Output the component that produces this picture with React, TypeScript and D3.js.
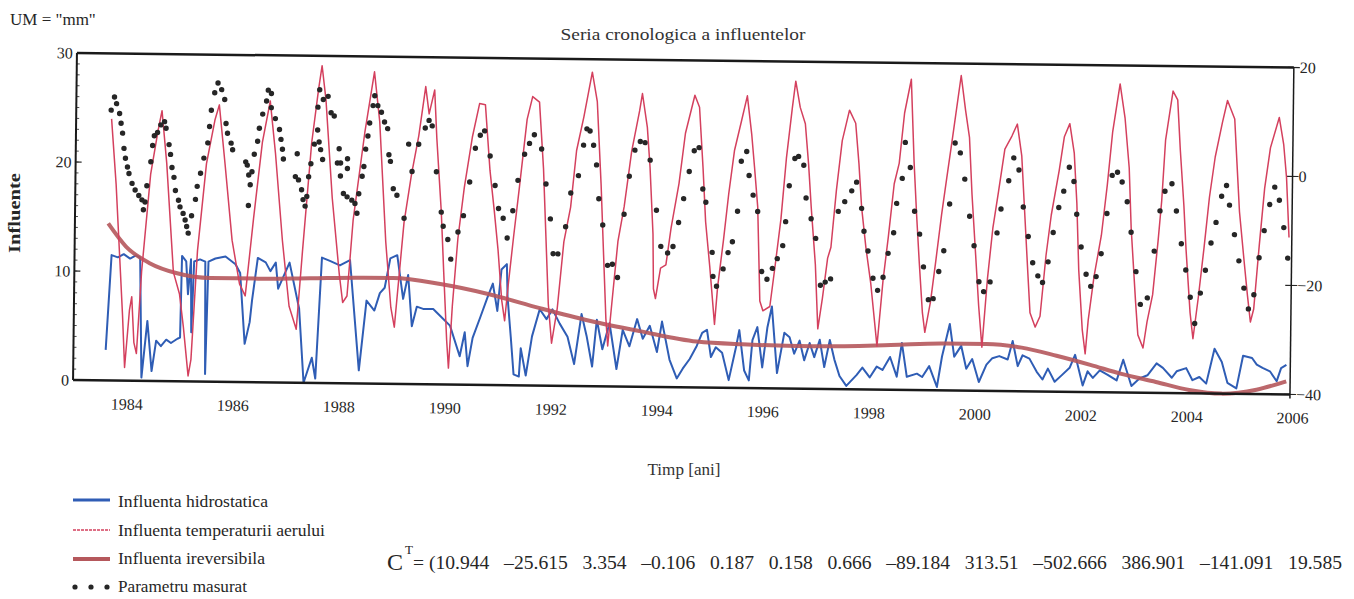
import * as d3 from 'd3'

// Series: [year, value]
const hydrostatic: [number, number][] = [
  [1983.59, 2.8], [1983.68, 11.5], [1983.8, 11.3], [1983.91, 11.6], [1984.03, 11.2], [1984.14, 11.5],
  [1984.22, 11.3], [1984.27, 0.3], [1984.37, 5.5], [1984.46, 0.9], [1984.54, 3.7], [1984.63, 3.2],
  [1984.73, 3.8], [1984.82, 3.5], [1984.94, 3.9], [1984.99, 4.0], [1985.01, 11.5], [1985.09, 11.0],
  [1985.13, 8.0], [1985.18, 11.2], [1985.2, 4.5], [1985.24, 11.0], [1985.35, 11.2], [1985.45, 11.0],
  [1985.47, 0.7], [1985.51, 11.0], [1985.64, 11.3], [1985.83, 11.5], [1986.02, 10.8], [1986.11, 10.0],
  [1986.21, 3.5], [1986.3, 5.5], [1986.34, 7.5], [1986.44, 11.4], [1986.59, 11.0], [1986.68, 10.2],
  [1986.78, 11.0], [1986.83, 8.6], [1987.04, 11.0], [1987.23, 6.8], [1987.33, 0.0], [1987.48, 2.3],
  [1987.55, 0.4], [1987.65, 11.5], [1987.8, 11.2], [1987.99, 10.8], [1988.18, 11.3], [1988.24, 8.1],
  [1988.37, 1.2], [1988.5, 7.6], [1988.65, 6.7], [1988.75, 8.3], [1988.84, 8.8], [1988.94, 11.5],
  [1989.07, 11.8], [1989.19, 7.8], [1989.28, 10.0], [1989.36, 5.3], [1989.45, 7.1], [1989.57, 6.9],
  [1989.76, 6.9], [1989.89, 6.3], [1990.08, 5.4], [1990.27, 2.6], [1990.36, 4.8], [1990.42, 1.7],
  [1990.51, 4.3], [1990.65, 6.2], [1990.78, 8.0], [1990.88, 9.3], [1990.97, 6.8], [1991.04, 10.6],
  [1991.14, 11.1], [1991.16, 8.1], [1991.23, 4.4], [1991.29, 1.0], [1991.39, 0.8], [1991.42, 3.4],
  [1991.52, 0.9], [1991.63, 4.5], [1991.77, 7.0], [1991.9, 6.1], [1992.01, 7.0], [1992.15, 5.7],
  [1992.3, 4.5], [1992.43, 2.0], [1992.56, 6.6], [1992.66, 4.6], [1992.77, 1.8], [1992.85, 6.1],
  [1992.96, 3.4], [1993.09, 5.8], [1993.23, 1.6], [1993.34, 5.2], [1993.47, 3.7], [1993.61, 6.2],
  [1993.72, 4.4], [1993.85, 5.6], [1993.99, 3.2], [1994.08, 6.0], [1994.23, 2.5], [1994.37, 0.8],
  [1994.48, 1.7], [1994.61, 2.6], [1994.74, 3.8], [1994.84, 5.0], [1994.93, 5.3], [1995.01, 2.8],
  [1995.1, 3.7], [1995.22, 3.2], [1995.35, 0.7], [1995.48, 3.7], [1995.54, 5.3], [1995.64, 1.6],
  [1995.73, 0.7], [1995.79, 4.4], [1995.88, 5.6], [1995.98, 1.9], [1996.07, 5.6], [1996.15, 7.5],
  [1996.26, 1.4], [1996.39, 5.1], [1996.49, 4.7], [1996.58, 3.2], [1996.68, 4.4], [1996.77, 2.6],
  [1996.87, 4.2], [1996.96, 2.9], [1997.06, 4.5], [1997.15, 2.0], [1997.25, 4.5], [1997.34, 2.7],
  [1997.44, 1.2], [1997.57, 0.3], [1997.76, 1.3], [1997.87, 2.0], [1998.01, 1.1], [1998.14, 2.1],
  [1998.25, 1.8], [1998.39, 3.0], [1998.52, 1.2], [1998.61, 4.3], [1998.71, 1.2], [1998.9, 1.5],
  [1999.0, 1.2], [1999.13, 2.2], [1999.28, 0.3], [1999.37, 3.1], [1999.51, 6.1], [1999.6, 3.1],
  [1999.73, 4.1], [1999.83, 2.0], [1999.94, 2.9], [2000.07, 0.8], [2000.21, 2.4], [2000.32, 3.0],
  [2000.45, 3.2], [2000.61, 2.9], [2000.7, 4.6], [2000.8, 2.3], [2000.89, 3.3], [2001.02, 3.0],
  [2001.16, 1.8], [2001.27, 1.1], [2001.37, 2.1], [2001.5, 0.9], [2001.63, 1.5], [2001.78, 2.2],
  [2001.88, 3.4], [2001.93, 2.5], [2002.03, 0.6], [2002.12, 1.9], [2002.22, 1.3], [2002.35, 2.0],
  [2002.5, 1.6], [2002.67, 1.1], [2002.79, 3.0], [2002.95, 0.6], [2003.1, 1.3], [2003.25, 1.6],
  [2003.42, 2.7], [2003.54, 2.3], [2003.71, 1.4], [2003.8, 2.0], [2003.98, 2.3], [2004.1, 1.2],
  [2004.23, 1.5], [2004.36, 0.9], [2004.51, 4.1], [2004.65, 2.9], [2004.76, 1.0], [2004.93, 0.5],
  [2005.05, 3.5], [2005.22, 3.3], [2005.31, 2.7], [2005.42, 2.4], [2005.56, 2.1], [2005.69, 1.2],
  [2005.77, 2.4], [2005.87, 2.7],
]

const airTemperature: [number, number][] = [
  [1983.65, 24.0], [1983.75, 18], [1983.9, 6], [1983.95, 1.2], [1984.03, 6.5], [1984.07, 7.7],
  [1984.12, 3.5], [1984.17, 2.5], [1984.25, 10], [1984.4, 19], [1984.53, 23], [1984.6, 24.8],
  [1984.7, 20], [1984.85, 10], [1984.97, 8], [1985.05, 5], [1985.15, 0.5], [1985.2, 2],
  [1985.3, 12], [1985.45, 20], [1985.6, 24], [1985.68, 25.4], [1985.8, 20], [1985.95, 13],
  [1986.1, 9], [1986.21, 7.9], [1986.35, 15], [1986.5, 22], [1986.64, 25.8], [1986.75, 21],
  [1986.9, 13], [1987.04, 7], [1987.18, 4.9], [1987.28, 12], [1987.43, 22], [1987.55, 27],
  [1987.61, 29.1], [1987.69, 26], [1987.83, 17], [1987.98, 10], [1988.05, 7.4], [1988.13, 8],
  [1988.23, 15], [1988.43, 23], [1988.6, 28.6], [1988.71, 24], [1988.85, 13], [1988.96, 7],
  [1989.03, 5.2], [1989.19, 14.8], [1989.32, 19.2], [1989.45, 22.8], [1989.57, 27.3], [1989.64, 24.8],
  [1989.74, 27.0], [1989.79, 22.6], [1989.89, 15.9], [1989.95, 10.3], [1990.02, 4.1], [1990.06, 1.5],
  [1990.12, 7.2], [1990.21, 13.4], [1990.32, 18.1], [1990.46, 22.7], [1990.59, 25.8], [1990.7, 25.7],
  [1990.8, 19.7], [1990.89, 16.0], [1990.97, 12.4], [1991.05, 7.8], [1991.11, 5.9], [1991.17, 9.2],
  [1991.26, 13.6], [1991.36, 18.2], [1991.49, 24.4], [1991.59, 26.5], [1991.72, 26.0], [1991.81, 19.9],
  [1991.87, 13.7], [1991.93, 7.5], [1992.0, 3.9], [1992.1, 7.1], [1992.21, 13.2], [1992.33, 16.4],
  [1992.43, 21.6], [1992.56, 24.7], [1992.71, 28.8], [1992.81, 26.1], [1992.9, 18.5], [1992.96, 12.3],
  [1993.02, 6.2], [1993.06, 3.7], [1993.13, 7.7], [1993.23, 13.3], [1993.34, 16.5], [1993.47, 21.6],
  [1993.61, 25.3], [1993.66, 26.9], [1993.76, 23.8], [1993.82, 20.1], [1993.89, 14.0], [1993.91, 9.0],
  [1993.95, 8.1], [1994.04, 10.9], [1994.14, 11.2], [1994.23, 14.6], [1994.37, 18.7], [1994.48, 23.3],
  [1994.65, 26.8], [1994.74, 25.7], [1994.82, 20.1], [1994.88, 15.2], [1994.97, 11.0], [1995.07, 5.8],
  [1995.12, 9.2], [1995.22, 13.5], [1995.31, 17.8], [1995.41, 21.8], [1995.54, 24.6], [1995.64, 26.8],
  [1995.73, 23.3], [1995.79, 20.3], [1995.86, 16.6], [1995.92, 8.0], [1995.98, 7.1], [1996.11, 7.5],
  [1996.2, 11.2], [1996.3, 15.5], [1996.39, 21.1], [1996.49, 25.7], [1996.55, 28.2], [1996.64, 25.8],
  [1996.74, 24.3], [1996.81, 20.6], [1996.87, 16.6], [1996.96, 11.4], [1997.02, 5.5], [1997.1, 8.3],
  [1997.19, 12.0], [1997.25, 13.0], [1997.34, 18.2], [1997.44, 22.8], [1997.57, 25.6], [1997.69, 24.4],
  [1997.76, 20.7], [1997.82, 16.7], [1997.91, 13.0], [1998.01, 9.7], [1998.14, 4.0], [1998.24, 10.0],
  [1998.33, 14.0], [1998.43, 18.9], [1998.52, 20.8], [1998.61, 25.4], [1998.73, 28.5], [1998.8, 20.9],
  [1998.86, 16.0], [1998.92, 11.7], [1998.99, 7.1], [1999.04, 5.3], [1999.14, 8.1], [1999.23, 11.8],
  [1999.33, 16.1], [1999.42, 19.5], [1999.52, 23.2], [1999.67, 28.9], [1999.76, 25.7], [1999.84, 23.2],
  [1999.9, 18.0], [1999.99, 11.9], [2000.05, 7.8], [2000.12, 4.0], [2000.21, 10.3], [2000.3, 14.9],
  [2000.4, 18.3], [2000.51, 22.2], [2000.64, 23.4], [2000.74, 24.5], [2000.83, 21.6], [2000.89, 17.0],
  [2000.97, 10.9], [2001.02, 7.2], [2001.12, 5.9], [2001.21, 6.9], [2001.31, 12.5], [2001.4, 16.2],
  [2001.54, 20.3], [2001.63, 23.4], [2001.73, 24.6], [2001.82, 21.9], [2001.88, 17.3], [2001.93, 11.2],
  [2002.01, 5.7], [2002.07, 3.5], [2002.12, 6.6], [2002.22, 10.6], [2002.35, 14.4], [2002.45, 19.0],
  [2002.54, 23.9], [2002.67, 28.3], [2002.77, 25.2], [2002.86, 20.6], [2002.91, 15.1], [2003.01, 8.3],
  [2003.06, 5.3], [2003.16, 4.1], [2003.23, 6.5], [2003.33, 9.0], [2003.42, 13.9], [2003.48, 17.6],
  [2003.54, 23.2], [2003.67, 27.7], [2003.76, 26.9], [2003.82, 22.3], [2003.9, 17.2], [2003.95, 13.2],
  [2004.04, 7.4], [2004.1, 5.0], [2004.19, 8.7], [2004.29, 13.4], [2004.38, 18.0], [2004.48, 21.7],
  [2004.61, 24.9], [2004.7, 26.9], [2004.84, 25.2], [2004.89, 21.3], [2004.95, 16.7], [2005.05, 12.1],
  [2005.12, 9.0], [2005.18, 6.6], [2005.24, 7.8], [2005.33, 13.6], [2005.42, 18.9], [2005.52, 22.6],
  [2005.68, 25.4], [2005.77, 22.9], [2005.83, 19.9], [2005.89, 14.4],
]

const irreversible: [number, number][] = [
  [1983.61, 14.4], [1983.95, 12.3], [1984.4, 10.8], [1984.92, 9.9], [1985.55, 9.5], [1986.45, 9.5],
  [1987.43, 9.6], [1988.43, 9.7], [1989.0, 9.7], [1989.89, 9.2], [1990.83, 8.3], [1991.77, 7.1],
  [1992.71, 6.0], [1993.66, 5.1], [1994.74, 4.2], [1995.6, 4.0], [1996.9, 3.9], [1998.4, 4.1],
  [1999.4, 4.3], [2000.2, 4.3], [2000.87, 4.0], [2001.53, 3.3], [2002.17, 2.5], [2002.76, 1.7],
  [2003.41, 1.0], [2004.04, 0.3], [2004.65, 0.0], [2005.31, 0.4], [2005.87, 1.2],
]

const measured: [number, number][] = [
  // 1983-1989: dense readings
  [1983.64, 24.8], [1983.7, 26.0], [1983.74, 25.4], [1983.8, 24.5], [1983.83, 23.6], [1983.86, 22.7],
  [1983.89, 21.3], [1983.92, 20.4], [1983.96, 19.6], [1983.99, 19.0], [1984.05, 18.1], [1984.11, 17.5],
  [1984.18, 17.0], [1984.24, 16.6], [1984.27, 15.7], [1984.3, 16.4], [1984.33, 17.9], [1984.4, 20.1],
  [1984.43, 21.6], [1984.46, 22.5], [1984.52, 22.8], [1984.58, 23.5], [1984.65, 23.8], [1984.68, 23.2],
  [1984.74, 21.7], [1984.77, 20.8], [1984.8, 19.6], [1984.84, 18.7], [1984.87, 17.5], [1984.93, 16.6],
  [1984.96, 16.0], [1985.02, 15.4], [1985.06, 14.8], [1985.09, 14.2], [1985.12, 13.6], [1985.18, 15.2],
  [1985.25, 16.7], [1985.28, 17.9], [1985.34, 19.1], [1985.4, 20.5], [1985.47, 21.9], [1985.5, 23.4],
  [1985.53, 24.9], [1985.59, 26.5], [1985.65, 27.4], [1985.72, 26.8], [1985.78, 25.9], [1985.81, 23.7],
  [1985.84, 22.8], [1985.91, 21.9], [1985.94, 21.3], [1986.19, 20.2], [1986.22, 19.9], [1986.25, 19.0],
  [1986.28, 18.1], [1986.25, 16.2], [1986.31, 19.3], [1986.35, 20.9], [1986.41, 22.1], [1986.44, 23.3],
  [1986.5, 24.6], [1986.57, 25.8], [1986.6, 26.8], [1986.66, 26.5], [1986.66, 25.2], [1986.74, 24.2],
  [1986.82, 23.2], [1986.85, 22.3], [1986.88, 21.4], [1986.9, 20.5], [1987.13, 18.9], [1987.16, 21.0],
  [1987.19, 18.6], [1987.25, 17.7], [1987.28, 16.8], [1987.32, 16.2], [1987.35, 17.1], [1987.38, 18.9],
  [1987.42, 20.1], [1987.48, 21.9], [1987.54, 23.2], [1987.54, 25.3], [1987.57, 26.9], [1987.57, 22.1],
  [1987.6, 21.4], [1987.64, 20.5], [1987.64, 26.0], [1987.73, 26.3], [1987.79, 24.8], [1987.85, 24.5],
  [1987.92, 20.2], [1987.95, 21.5], [1987.98, 20.2], [1987.98, 19.0], [1988.04, 17.4], [1988.11, 20.6],
  [1988.11, 19.7], [1988.11, 17.1], [1988.2, 16.8], [1988.26, 16.5], [1988.3, 15.6], [1988.33, 17.4],
  [1988.39, 19.0], [1988.42, 19.9], [1988.45, 21.5], [1988.49, 22.7], [1988.52, 23.9], [1988.58, 25.5],
  [1988.61, 26.4], [1988.67, 25.5], [1988.74, 24.9], [1988.8, 24.0], [1988.86, 23.4], [1988.89, 21.0],
  [1988.92, 20.4], [1988.98, 17.9], [1989.05, 17.3],
  // 1989 onwards
  [1989.19, 15.2], [1989.26, 22.0], [1989.33, 19.5],
  [1989.45, 22.0], [1989.57, 23.5], [1989.64, 24.2], [1989.7, 23.7], [1989.79, 19.5], [1989.89, 15.8],
  [1989.93, 14.5], [1990.02, 13.3], [1990.08, 11.5], [1990.21, 14.0], [1990.31, 15.5], [1990.42, 18.6],
  [1990.52, 21.7], [1990.61, 22.9], [1990.69, 23.3], [1990.8, 21.0], [1990.9, 18.3], [1990.97, 16.2],
  [1991.06, 15.3], [1991.14, 13.5], [1991.24, 16.0], [1991.33, 18.8], [1991.45, 21.2], [1991.54, 22.2],
  [1991.63, 23.0], [1991.77, 21.7], [1991.86, 18.5], [1991.95, 15.3], [1992.01, 12.1], [1992.1, 12.1],
  [1992.24, 14.6], [1992.33, 17.7], [1992.47, 19.3], [1992.56, 22.1], [1992.62, 23.6], [1992.68, 23.4],
  [1992.75, 22.1], [1992.81, 20.3], [1992.86, 17.2], [1992.94, 14.8], [1993.04, 11.1], [1993.13, 11.2],
  [1993.23, 10.0], [1993.34, 15.8], [1993.43, 19.3], [1993.53, 21.7], [1993.63, 22.5], [1993.72, 22.4],
  [1993.82, 20.8], [1993.95, 16.2], [1994.04, 12.9], [1994.17, 12.3], [1994.27, 12.9], [1994.37, 15.1],
  [1994.46, 17.3], [1994.56, 19.8], [1994.65, 21.7], [1994.74, 22.0], [1994.82, 18.2], [1994.88, 17.0],
  [1995.01, 12.4], [1995.03, 10.2], [1995.1, 9.3], [1995.22, 10.9], [1995.31, 12.4], [1995.39, 13.4],
  [1995.48, 16.2], [1995.54, 20.8], [1995.64, 21.7], [1995.69, 19.5], [1995.77, 17.7], [1995.86, 16.2],
  [1995.95, 10.7], [1996.05, 10.0], [1996.15, 11.0], [1996.24, 11.9], [1996.34, 13.1], [1996.39, 15.3],
  [1996.45, 18.6], [1996.55, 21.1], [1996.62, 21.3], [1996.72, 20.5], [1996.77, 17.5], [1996.87, 15.6],
  [1996.96, 13.8], [1997.06, 9.5], [1997.15, 9.8], [1997.25, 10.1], [1997.38, 16.3], [1997.5, 17.2],
  [1997.63, 18.2], [1997.72, 19.0], [1997.82, 16.6], [1997.87, 14.5], [1997.95, 12.7], [1998.05, 10.2],
  [1998.14, 9.1], [1998.24, 10.3], [1998.33, 12.5], [1998.43, 14.4], [1998.48, 17.1], [1998.58, 19.4],
  [1998.63, 22.7], [1998.73, 20.4], [1998.82, 16.4], [1998.92, 14.3], [1999.0, 11.3], [1999.1, 8.3],
  [1999.19, 8.4], [1999.29, 10.9], [1999.38, 12.8], [1999.48, 17.1], [1999.57, 22.7], [1999.67, 21.8],
  [1999.76, 19.4], [1999.86, 16.0], [1999.95, 13.3], [2000.05, 10.0], [2000.14, 9.1], [2000.26, 10.0],
  [2000.38, 14.5], [2000.45, 16.7], [2000.59, 19.3], [2000.68, 21.4], [2000.78, 20.3], [2000.87, 16.9],
  [2000.97, 14.2], [2001.06, 11.8], [2001.16, 10.6], [2001.25, 10.0], [2001.35, 11.9], [2001.44, 14.6],
  [2001.54, 16.9], [2001.63, 18.4], [2001.73, 20.6], [2001.82, 19.3], [2001.88, 16.3], [2001.97, 13.3],
  [2002.07, 10.8], [2002.16, 9.7], [2002.26, 10.6], [2002.35, 12.7], [2002.45, 16.4], [2002.54, 19.9],
  [2002.64, 20.2], [2002.73, 19.3], [2002.83, 17.5], [2002.91, 14.7], [2003.01, 11.1], [2003.1, 8.1],
  [2003.23, 8.7], [2003.35, 13.0], [2003.45, 16.7], [2003.54, 18.5], [2003.67, 19.2], [2003.76, 16.7],
  [2003.86, 13.7], [2003.95, 11.3], [2004.04, 8.8], [2004.13, 6.4], [2004.23, 9.2], [2004.32, 11.3],
  [2004.42, 13.8], [2004.51, 15.7], [2004.61, 18.1], [2004.7, 19.1], [2004.76, 17.3], [2004.86, 14.6],
  [2004.95, 12.2], [2005.05, 9.7], [2005.14, 7.8], [2005.24, 9.1], [2005.33, 12.5], [2005.42, 15.0],
  [2005.52, 17.4], [2005.61, 19.0], [2005.7, 17.8], [2005.79, 15.3], [2005.87, 12.5],
]

const yearTicks = [1984, 1986, 1988, 1990, 1992, 1994, 1996, 1998, 2000, 2002, 2004, 2006]
const leftTicks = [0, 10, 20, 30]
const rightTicks = [-40, -20, 0, 20]
const coefficients = [
  '10.944', '\u201325.615', '3.354', '\u20130.106', '0.187', '0.158', '0.666',
  '\u201389.184', '313.51', '\u2013502.666', '386.901', '\u2013141.091', '19.585',
]

const FONT = '"Liberation Serif", "DejaVu Serif", serif'
const INK = '#262626'
const BLUE = '#2f5db5'
const RED = '#d4405e'
const BROWN = '#b5585c'

export default function App() {
  const x = d3.scaleLinear().domain([1984, 2006]).range([129, 1295])
  const y = d3.scaleLinear().domain([0, 30]).range([380, 53])
  const yR = d3.scaleLinear().domain([-40, 20]).range([380, 53])
  const L = 75, R = 1292, T = 53, B = 380

  const line = d3.line<[number, number]>().x(d => x(d[0])).y(d => y(d[1]))
  const smooth = d3.line<[number, number]>().x(d => x(d[0])).y(d => y(d[1])).curve(d3.curveMonotoneX)

  return (
    <svg width={1354} height={599} style={{ position: 'absolute', left: 0, top: 0, background: '#fff' }}
      fontFamily={FONT}>
      <text x={10} y={25} fontSize={17} fill={INK}>UM = "mm"</text>
      <text x={683} y={40} fontSize={17} fill="#333" textAnchor="middle" textLength={245}
        lengthAdjust="spacingAndGlyphs">Seria cronologica a influentelor</text>

      {/* scanned page is slightly tilted */}
      <g transform={`rotate(0.68, ${L}, 216)`}>
        {/* minor ticks on the left axis */}
        {d3.range(0, 31).map(v => (
          <line key={'m' + v} x1={L} x2={L + 3} y1={y(v)} y2={y(v)} stroke={INK} strokeWidth={0.8} />
        ))}
        {leftTicks.map(v => (
          <g key={'l' + v}>
            <line x1={L} x2={L + 6} y1={y(v)} y2={y(v)} stroke={INK} strokeWidth={1.2} />
            <text x={L - 4} y={y(v)} dy="0.35em" fontSize={16} fill={INK} textAnchor="end">{v}</text>
          </g>
        ))}
        {rightTicks.map(v => (
          <g key={'r' + v}>
            <line x1={R - 6} x2={R + 6} y1={yR(v)} y2={yR(v)} stroke={INK} strokeWidth={1.2} />
            <text x={R + 6} y={yR(v)} dy="0.35em" fontSize={16} fill={INK}>{v < 0 ? '\u2212' + -v : v}</text>
          </g>
        ))}
        {yearTicks.map(t => (
          <text key={t} x={x(t)} y={409} fontSize={16} fill={INK} textAnchor="middle">{t}</text>
        ))}

        <path d={line(hydrostatic) ?? ''} fill="none" stroke={BLUE} strokeWidth={2} strokeLinejoin="round" />
        <path d={smooth(irreversible) ?? ''} fill="none" stroke={BROWN} strokeWidth={4} strokeOpacity={0.9} />
        <path d={line(airTemperature) ?? ''} fill="none" stroke={RED} strokeWidth={1.5} strokeLinejoin="round" />
        {measured.map((d, i) => (
          <circle key={i} cx={x(d[0])} cy={y(d[1])} r={2.7} fill={INK} />
        ))}

        <line x1={L} x2={R} y1={T} y2={T} stroke="#1a1a1a" strokeWidth={2.5} />
        <line x1={L} x2={R} y1={B} y2={B} stroke="#1a1a1a" strokeWidth={2.5} />
        <line x1={L} x2={L} y1={T} y2={B} stroke="#1a1a1a" strokeWidth={2} />
        <line x1={R} x2={R} y1={T} y2={B + 4} stroke="#1a1a1a" strokeWidth={1.5} />
      </g>

      <text transform="translate(20,213) rotate(-90)" fontSize={16} fontWeight="bold" fill={INK}
        textAnchor="middle" textLength={80} lengthAdjust="spacingAndGlyphs">Influente</text>
      <text x={684} y={475} fontSize={17} fill="#333" textAnchor="middle" textLength={73}
        lengthAdjust="spacingAndGlyphs">Timp [ani]</text>

      {/* legend */}
      <line x1={73} x2={110} y1={500} y2={500} stroke={BLUE} strokeWidth={3} />
      <text x={118} y={507} fontSize={17} fill={INK} textLength={150} lengthAdjust="spacingAndGlyphs">Influenta hidrostatica</text>
      <line x1={73} x2={110} y1={530} y2={530} stroke={RED} strokeWidth={1.6} strokeDasharray="3 1" />
      <text x={118} y={536} fontSize={17} fill={INK} textLength={207} lengthAdjust="spacingAndGlyphs">Influenta temperaturii aerului</text>
      <line x1={73} x2={110} y1={559} y2={559} stroke={BROWN} strokeWidth={4} />
      <text x={118} y={564} fontSize={17} fill={INK} textLength={147} lengthAdjust="spacingAndGlyphs">Influenta ireversibila</text>
      {[75, 91, 107].map(cx => <circle key={cx} cx={cx} cy={587} r={2.6} fill={INK} />)}
      <text x={118} y={592} fontSize={17} fill={INK} textLength={129} lengthAdjust="spacingAndGlyphs">Parametru masurat</text>

      {/* coefficient vector */}
      <text x={387} y={570} fontSize={24} fill={INK}>C</text>
      <text x={405} y={554} fontSize={13} fill={INK}>T</text>
      <text x={413} y={569} fontSize={18} fill={INK} textLength={929} lengthAdjust="spacingAndGlyphs"
        style={{ whiteSpace: 'pre' }}>{'= (' + coefficients.join('   ')}</text>
    </svg>
  )
}
